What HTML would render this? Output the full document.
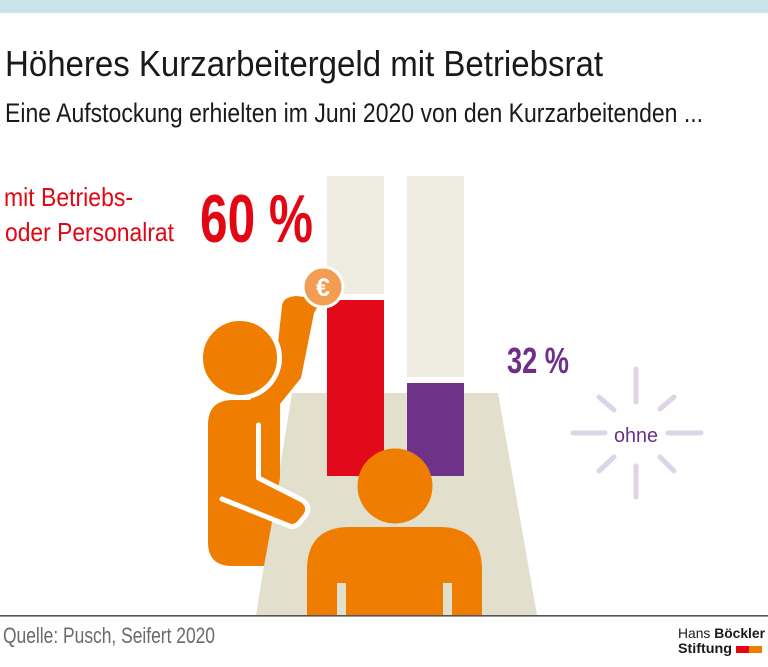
<!DOCTYPE html>
<html>
<head>
<meta charset="utf-8">
<style>
  html, body { margin: 0; padding: 0; background: #ffffff; }
  svg { display: block; }
  text { font-family: "Liberation Sans", sans-serif; }
</style>
</head>
<body>
<svg width="768" height="667" viewBox="0 0 768 667" xmlns="http://www.w3.org/2000/svg">
  <rect x="0" y="0" width="768" height="667" fill="#ffffff"/>
  <!-- top band -->
  <rect x="0" y="0" width="768" height="13" fill="#cbe4ea"/>

  <!-- title & subtitle -->
  <text x="5" y="76" font-size="36" fill="#1a1a1a" textLength="598" lengthAdjust="spacingAndGlyphs">Höheres Kurzarbeitergeld mit Betriebsrat</text>
  <text x="5" y="122" font-size="27" fill="#1a1a1a" textLength="698" lengthAdjust="spacingAndGlyphs">Eine Aufstockung erhielten im Juni 2020 von den Kurzarbeitenden ...</text>

  <!-- red label -->
  <text x="4" y="206" font-size="26" fill="#e30613" textLength="129" lengthAdjust="spacingAndGlyphs">mit Betriebs-</text>
  <text x="5" y="241" font-size="26" fill="#e30613" textLength="169" lengthAdjust="spacingAndGlyphs">oder Personalrat</text>
  <text x="200" y="242" font-size="68" font-weight="bold" fill="#e30613" textLength="113" lengthAdjust="spacingAndGlyphs">60 %</text>

  <!-- purple label -->
  <text x="507" y="373" font-size="36" font-weight="bold" fill="#6e2f8a" textLength="62" lengthAdjust="spacingAndGlyphs">32 %</text>

  <!-- ohne rays -->
  <g stroke="#ddd4e8" stroke-width="5" stroke-linecap="round" fill="none">
    <line x1="636" y1="369" x2="636" y2="402"/>
    <line x1="636" y1="466" x2="636" y2="497"/>
    <line x1="573" y1="433" x2="605" y2="433"/>
    <line x1="668" y1="433" x2="701" y2="433"/>
    <line x1="599" y1="397" x2="614" y2="410"/>
    <line x1="674" y1="397" x2="660" y2="409"/>
    <line x1="599" y1="471" x2="614" y2="457"/>
    <line x1="674" y1="471" x2="660" y2="457"/>
  </g>
  <text x="614" y="442" font-size="20" fill="#6e2f8a" textLength="44" lengthAdjust="spacingAndGlyphs">ohne</text>

  <!-- background bars -->
  <rect x="327" y="176" width="57" height="118" fill="#efede2"/>
  <rect x="407" y="176" width="57" height="201" fill="#efede2"/>

  <!-- trapezoid table -->
  <polygon points="292,393 498,393 537,615 256,615" fill="#e2e0cd"/>

  <!-- data bars -->
  <rect x="327" y="300" width="57" height="176" fill="#e20a1a"/>
  <rect x="407" y="383" width="57" height="93" fill="#6f3289"/>

  <!-- person 1 torso -->
  <path d="M208,425 Q208,400 233,400 L280,400 L280,478 L264,566 L232,566 Q208,566 208,542 Z" fill="#ef7d00"/>
  <!-- person 1 raised arm -->
  <path d="M277,352 L282,306 Q283,297 296,296 L314,298 Q321,303 314,313 L301,378 L280,404 L250,400 Z" fill="#ef7d00"/>
  <!-- person 1 forearm with white outline -->
  <path d="M258.5,425 L258.5,478 L302,500 Q311,506 306,515 L300,522 Q295,529 287,525 L222,499" fill="#ef7d00" stroke="#ffffff" stroke-width="5" stroke-linejoin="round" stroke-linecap="round"/>
  <!-- person 1 head -->
  <circle cx="240" cy="358" r="39.5" fill="#ef7d00" stroke="#ffffff" stroke-width="5"/>

  <!-- coin -->
  <circle cx="323" cy="287" r="20" fill="#f29d52" stroke="#ffffff" stroke-width="3"/>
  <text x="323" y="296" font-size="25" font-weight="bold" fill="#ffffff" text-anchor="middle">€</text>

  <!-- person 2 -->
  <circle cx="395" cy="486" r="37.5" fill="#ef7d00"/>
  <path d="M307,616 L307,570 Q307,527 350,527 L439,527 Q482,527 482,570 L482,616 Z" fill="#ef7d00"/>
  <rect x="337" y="583" width="9" height="33" fill="#e2e0cd"/>
  <rect x="443" y="583" width="9" height="33" fill="#e2e0cd"/>

  <!-- baseline -->
  <rect x="0" y="615" width="768" height="1.6" fill="#555555"/>

  <!-- source -->
  <text x="3" y="643" font-size="22" fill="#6a6a6a" textLength="212" lengthAdjust="spacingAndGlyphs">Quelle: Pusch, Seifert 2020</text>

  <!-- logo -->
  <text x="678" y="638" font-size="14" fill="#1a1a1a" textLength="87" lengthAdjust="spacingAndGlyphs">Hans <tspan font-weight="bold">Böckler</tspan></text>
  <text x="678" y="653" font-size="14" font-weight="bold" fill="#1a1a1a" textLength="54" lengthAdjust="spacingAndGlyphs">Stiftung</text>
  <rect x="736" y="646" width="13" height="7" fill="#e30613"/>
  <rect x="749" y="646" width="13" height="7" fill="#ef7d00"/>
</svg>
</body>
</html>
